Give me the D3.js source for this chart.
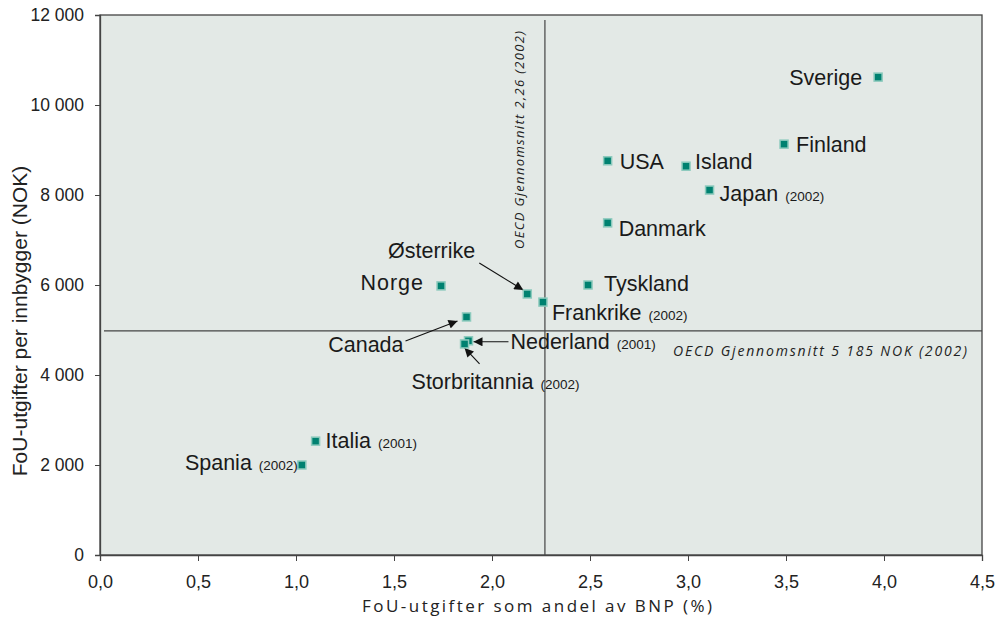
<!DOCTYPE html>
<html>
<head>
<meta charset="utf-8">
<script src="https://cdn.jsdelivr.net/npm/d3@7"></script>
<style>
  body { margin: 0; background: #fff; }
  #chart { width: 996px; height: 620px; }
</style>
</head>
<body>
<div id="chart"></div>
<script>
// Data
const countries = ["Sverige", "Finland", "USA", "Island", "Japan", "Danmark", "Tyskland",
    "Østerrike", "Frankrike", "Norge", "Canada", "Nederland", "Storbritannia", "Italia", "Spania"];
const shareGdp = [3.97, 3.49, 2.59, 2.99, 3.11, 2.59, 2.49, 2.18, 2.26, 1.74, 1.87, 1.88, 1.86, 1.10, 1.03];
const perCapita = [10620, 9130, 8760, 8640, 8110, 7380, 6000, 5800, 5620, 5980, 5290, 4760, 4690, 2530, 2000];
const yearNote = ["", "", "", "", "(2002)", "", "", "", "(2002)", "", "", "(2001)", "(2002)", "(2001)", "(2002)"];

const xTicks = [0, 0.5, 1, 1.5, 2, 2.5, 3, 3.5, 4, 4.5];
const yTicks = [0, 2000, 4000, 6000, 8000, 10000, 12000];

const oecdShare = 2.27;
const oecdPerCapita = 4980;

// Label layout: offsets (px) from each marker, anchor, and optional arrow
const labelLayout = {
    "Sverige":       { dx: -16, dy: 8, anchor: "end" },
    "Finland":       { dx: 12, dy: 8, anchor: "start" },
    "USA":           { dx: 12, dy: 8, anchor: "start" },
    "Island":        { dx: 9, dy: 3, anchor: "start" },
    "Japan":         { dx: 10, dy: 11, anchor: "start" },
    "Danmark":       { dx: 11, dy: 13, anchor: "start" },
    "Tyskland":      { dx: 16, dy: 6, anchor: "start" },
    "Østerrike":     { dx: -52, dy: -36, anchor: "end", arrow: [-48, -31, -4, -4] },
    "Frankrike":     { dx: 9, dy: 18, anchor: "start" },
    "Norge":         { dx: -17, dy: 4, anchor: "end", spacing: 1 },
    "Canada":        { dx: -63, dy: 35, anchor: "end", arrow: [-61, 24, -9, 4] },
    "Nederland":     { dx: 42, dy: 8, anchor: "start", arrow: [40, 1, 5, 1] },
    "Storbritannia": { dx: -53, dy: 45, anchor: "start", arrow: [15, 20, 0, 4] },
    "Italia":        { dx: 10, dy: 7, anchor: "start" },
    "Spania":        { dx: -4, dy: 5, anchor: "end" }
};

const margin = { top: 15, right: 14, bottom: 65, left: 100 };
const width = 996, height = 620;
const innerW = width - margin.left - margin.right;
const innerH = height - margin.top - margin.bottom;

const svg = d3.select("#chart").append("svg")
    .attr("width", width)
    .attr("height", height)
    .style("font-family", "'Liberation Sans', Arial, sans-serif");

const defs = svg.append("defs");
defs.append("marker")
    .attr("id", "arrowhead")
    .attr("viewBox", "0 0 10 10")
    .attr("refX", 10).attr("refY", 5)
    .attr("markerWidth", 11).attr("markerHeight", 9)
    .attr("markerUnits", "userSpaceOnUse")
    .attr("orient", "auto")
    .append("path")
    .attr("d", "M0,0 L10,5 L0,10 Z")
    .attr("fill", "#111");

const g = svg.append("g").attr("transform", `translate(${margin.left},${margin.top})`);

const x = d3.scaleLinear().domain([0, 4.5]).range([0, innerW]);
const y = d3.scaleLinear().domain([0, 12000]).range([innerH, 0]);

// plot background
g.append("rect")
    .attr("width", innerW)
    .attr("height", innerH)
    .attr("fill", "#e3e9e6")
    .attr("stroke", "#444")
    .attr("stroke-width", 1.3);

const spaceFmt = d => d3.format(",")(d).replace(/,/g, " ");

// y axis
const yAxis = g.append("g")
    .call(d3.axisLeft(y).tickValues(yTicks).tickSize(5).tickPadding(11).tickFormat(spaceFmt));
yAxis.select(".domain").attr("stroke", "#444").attr("stroke-width", 1.3);
yAxis.selectAll(".tick line").attr("stroke", "#444");
yAxis.selectAll("text")
    .style("font-size", "17.5px")
    .style("font-family", "'Liberation Sans', Arial, sans-serif")
    .attr("fill", "#222");

// x axis
const xAxis = g.append("g")
    .attr("transform", `translate(0,${innerH})`)
    .call(d3.axisBottom(x).tickValues(xTicks).tickSize(6).tickPadding(14)
        .tickFormat(d => d3.format(".1f")(d).replace(".", ",")));
xAxis.select(".domain").attr("stroke", "#444").attr("stroke-width", 1.3);
xAxis.selectAll(".tick line").attr("stroke", "#444");
xAxis.selectAll("text")
    .style("font-size", "18px")
    .style("font-family", "'Liberation Sans', Arial, sans-serif")
    .attr("fill", "#222");

// axis titles
svg.append("text")
    .attr("x", margin.left + x(2.23))
    .attr("y", 612)
    .attr("text-anchor", "middle")
    .attr("textLength", 350)
    .style("font-family", "'Open Sans', sans-serif")
    .style("font-size", "17px")
    .attr("fill", "#222")
    .text("FoU-utgifter som andel av BNP (%)");

svg.append("text")
    .attr("transform", `translate(27,${margin.top + y(5200)}) rotate(-90)`)
    .attr("text-anchor", "middle")
    .style("font-size", "21px")
    .attr("fill", "#222")
    .text("FoU-utgifter per innbygger (NOK)");

// OECD reference lines
g.append("line")
    .attr("x1", x(oecdShare)).attr("x2", x(oecdShare))
    .attr("y1", 5).attr("y2", innerH)
    .attr("stroke", "#444").attr("stroke-width", 1.2);

g.append("line")
    .attr("x1", 4).attr("x2", innerW)
    .attr("y1", y(oecdPerCapita)).attr("y2", y(oecdPerCapita))
    .attr("stroke", "#444").attr("stroke-width", 1.2);

g.append("text")
    .attr("transform", `translate(${x(oecdShare) - 21},${y(6800)}) rotate(-90)`)
    .attr("textLength", 218)
    .style("font-family", "'Open Sans', sans-serif")
    .style("font-style", "italic")
    .style("font-size", "13px")
    .attr("fill", "#222")
    .text("OECD Gjennomsnitt 2,26 (2002)");

g.append("text")
    .attr("x", innerW - 15)
    .attr("y", y(oecdPerCapita) + 25)
    .attr("text-anchor", "end")
    .attr("textLength", 294)
    .style("font-family", "'Open Sans', sans-serif")
    .style("font-style", "italic")
    .style("font-size", "14px")
    .attr("fill", "#222")
    .text("OECD Gjennomsnitt 5 185 NOK (2002)");

const points = countries.map((c, i) => ({
    name: c, x: shareGdp[i], y: perCapita[i], year: yearNote[i], lay: labelLayout[c]
}));

// arrows
g.selectAll("line.arrow")
    .data(points.filter(d => d.lay.arrow))
    .enter()
    .append("line")
    .attr("class", "arrow")
    .attr("x1", d => x(d.x) + d.lay.arrow[0])
    .attr("y1", d => y(d.y) + d.lay.arrow[1])
    .attr("x2", d => x(d.x) + d.lay.arrow[2])
    .attr("y2", d => y(d.y) + d.lay.arrow[3])
    .attr("stroke", "#111")
    .attr("stroke-width", 1.1)
    .attr("marker-end", "url(#arrowhead)");

// markers
g.selectAll("rect.pt")
    .data(points)
    .enter()
    .append("rect")
    .attr("class", "pt")
    .attr("x", d => x(d.x) - 4)
    .attr("y", d => y(d.y) - 4)
    .attr("width", 8)
    .attr("height", 8)
    .attr("fill", "#008170")
    .attr("stroke", "#8ccabd")
    .attr("stroke-width", 1.5);

// labels
const labels = g.selectAll("text.lbl")
    .data(points)
    .enter()
    .append("text")
    .attr("class", "lbl")
    .attr("x", d => x(d.x) + d.lay.dx)
    .attr("y", d => y(d.y) + d.lay.dy)
    .attr("text-anchor", d => d.lay.anchor)
    .attr("fill", "#1a1a1a")
    .style("font-size", "21.5px")
    .style("letter-spacing", d => d.lay.spacing ? d.lay.spacing + "px" : null);

labels.append("tspan").text(d => d.name);
labels.filter(d => d.year)
    .append("tspan")
    .attr("dx", 7)
    .style("font-size", "13.5px")
    .text(d => d.year);
</script>
</body>
</html>
